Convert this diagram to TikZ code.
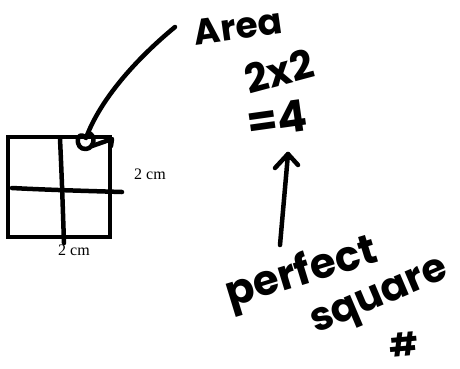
\documentclass[tikz,border=0pt]{standalone}
\usepackage{fontspec}
\newfontfamily\hand{Poppins}
\newfontfamily\labelfont{Liberation Serif}
\begin{document}
\begin{tikzpicture}[x=1pt,y=-1pt,
  ink/.style={line width=4.5pt, line cap=round, line join=round},
  hw/.style={font=\hand\bfseries, inner sep=0pt},
  lab/.style={font=\labelfont\fontsize{16}{18}\selectfont, inner sep=0pt}]
\useasboundingbox[fill=white] (0,0) rectangle (460,368);
% square with grid
\node[draw, line width=4.5pt, minimum width=102pt, minimum height=100pt, inner sep=0pt] (sq) at (59,187) {};
\draw[ink] (60,139) .. controls (62,180) and (63,215) .. (64,243);
\draw[ink] (12,188) .. controls (50,190) and (90,191) .. (122,192);
\node[lab] (lr) at (150,174) {2 cm};
\node[lab] (lb) at (74,250) {2 cm};
% texts
\node[hw, font=\hand\bfseries\fontsize{36}{38}\selectfont, rotate=8] (area) at (238,27) {Area};
\node[hw, font=\hand\bfseries\fontsize{40}{42}\selectfont, rotate=15] (mul) at (279,71) {2x2};
\node[hw, font=\hand\bfseries\fontsize{44}{46}\selectfont, rotate=8] (eq) at (277,119) {=4};
\node[hw, font=\hand\bfseries\fontsize{42}{44}\selectfont, rotate=17] (perf) at (302,274) {perfect};
\node[hw, font=\hand\bfseries\fontsize{40}{42}\selectfont, rotate=23] (sqw) at (381,300) {square};
\node[hw, font=\hand\bfseries\fontsize{32}{34}\selectfont, rotate=5] (hash) at (404,344) {\#};
% arrow from Area to square
\coordinate (a0) at (175,27);
\coordinate (a1) at (86,138);
\draw[ink] (a0) .. controls (135,60) and (100,100) .. (a1)
  .. controls (76,128) and (74,150) .. (86,149)
  .. controls (95,148) and (96,134) .. (88,133);
\draw[ink] (92,146) -- (112,139) -- (111,146);
% arrow from perfect to =4
\coordinate (b0) at (280,245);
\coordinate (tip) at (288,154);
\draw[ink] (b0) -- (tip);
\draw[ink] (275,168) -- (tip) -- (298,165);
\end{tikzpicture}
\end{document}
